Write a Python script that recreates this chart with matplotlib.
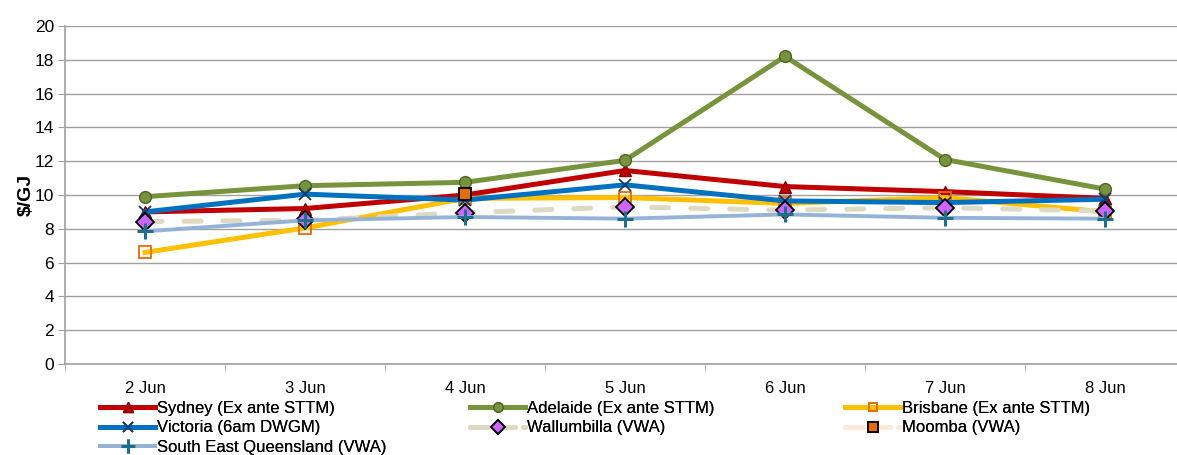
import numpy as np
import matplotlib
matplotlib.use("Agg")
import matplotlib.pyplot as plt
from matplotlib.lines import Line2D

plt.rcParams['font.family'] = ['Liberation Sans', 'DejaVu Sans']

days = ['2 Jun', '3 Jun', '4 Jun', '5 Jun', '6 Jun', '7 Jun', '8 Jun']

sydney = [9.0, 9.2, 10.0, 11.45, 10.5, 10.2, 9.8]
adelaide = [9.9, 10.55, 10.75, 12.05, 18.2, 12.1, 10.35]
brisbane = [6.6, 8.05, 9.8, 9.85, 9.5, 9.85, 9.0]
victoria = [9.0, 10.05, 9.7, 10.6, 9.65, 9.55, 9.75]
wallumbilla = [8.43, 8.5, 8.95, 9.3, 9.1, 9.25, 9.05]
moomba = [np.nan, np.nan, 10.05, np.nan, np.nan, np.nan, np.nan]
seq = [7.85, 8.5, 8.7, 8.6, 8.85, 8.65, 8.6]

fig = plt.figure(figsize=(11.77, 4.55), dpi=100)
ax = fig.add_axes([65/1177, 91/455, 1120/1177, 338/455])

x = np.arange(len(days))
lw = 3.6
dash = (0, (3.4, 4.4))

ax.plot(x, sydney, color='#C00000', lw=lw, marker='^', ms=8.5,
        mfc='#C00000', mec='#8B0000', label='Sydney (Ex ante STTM)', zorder=3)
ax.plot(x, adelaide, color='#77933C', lw=lw, marker='o', ms=8.5,
        mfc='#77933C', mec='#4F6228', label='Adelaide (Ex ante STTM)', zorder=3)
ax.plot(x, brisbane, color='#FFC000', lw=lw, marker='s', ms=8,
        mfc='none', mec='#E36C09', mew=1.3, label='Brisbane (Ex ante STTM)', zorder=3)
ax.plot(x, victoria, color='#0070C0', lw=lw, marker='x', ms=9,
        mec='#17375E', mew=1.3, label='Victoria (6am DWGM)', zorder=3)
ax.plot(x, wallumbilla, color='#DDD9C3', lw=lw, ls=dash, dash_capstyle='round',
        marker='D', ms=9, mfc='#CC66FF', mec='black', mew=1.3,
        label='Wallumbilla (VWA)', zorder=3)
ax.plot(x, moomba, color='#FDE9D9', lw=lw, ls=dash, dash_capstyle='round',
        marker='s', ms=9, mfc='#E36C09', mec='black', mew=1.3,
        label='Moomba (VWA)', zorder=4)
ax.plot(x, seq, color='#95B3D7', lw=2.8, marker='+', ms=12, mec='#1F6E8C',
        mew=2.2, label='South East Queensland (VWA)', zorder=3)

ax.set_xlim(-0.5, len(days) - 0.5)
ax.set_ylim(0, 20)
ax.set_yticks(np.arange(0, 21, 2))
ax.set_xticks(x)
ax.set_xticklabels(days)
ax.set_xticks(np.arange(-0.5, len(days), 1), minor=True)
ax.tick_params(axis='x', which='major', length=0, pad=12, labelsize=12)
ax.tick_params(axis='x', which='minor', length=5, color='#A0A0A0', direction='out')
ax.tick_params(axis='y', length=5, color='#A0A0A0', labelsize=12.5, pad=3)

ax.grid(axis='y', color='#A0A0A0', lw=1)
ax.set_axisbelow(True)
for side in ['top', 'right']:
    ax.spines[side].set_visible(False)
for side in ['left', 'bottom']:
    ax.spines[side].set_color('#A0A0A0')
    ax.spines[side].set_linewidth(1.2)

ax.set_ylabel('$/GJ', fontsize=14, fontweight='bold', labelpad=0)

handles, labels = ax.get_legend_handles_labels()
lookup = dict(zip(labels, handles))

# legend handles with the marker drawn once in the middle
def legend_handle(h):
    return Line2D([0, 1], [0, 0], color=h.get_color(), lw=h.get_linewidth(),
                  ls=h.get_linestyle(), dash_capstyle='round',
                  marker=h.get_marker(), ms=h.get_markersize() * 0.8,
                  mfc=h.get_markerfacecolor(), mec=h.get_markeredgecolor(),
                  mew=h.get_markeredgewidth())

columns = [
    (['Sydney (Ex ante STTM)', 'Victoria (6am DWGM)', 'South East Queensland (VWA)'], 100),
    (['Adelaide (Ex ante STTM)', 'Wallumbilla (VWA)'], 470),
    (['Brisbane (Ex ante STTM)', 'Moomba (VWA)'], 845),
]
for names, left in columns:
    hs = [legend_handle(lookup[n]) for n in names]
    leg = fig.legend(hs, names, loc='upper left',
                     bbox_to_anchor=(left / 1177, 1 - 401 / 455),
                     frameon=False, fontsize=12, handlelength=3.3,
                     handletextpad=0.12, labelspacing=0.26,
                     borderpad=0, borderaxespad=0)
    fig.add_artist(leg)

fig.savefig('out.png', dpi=100)
